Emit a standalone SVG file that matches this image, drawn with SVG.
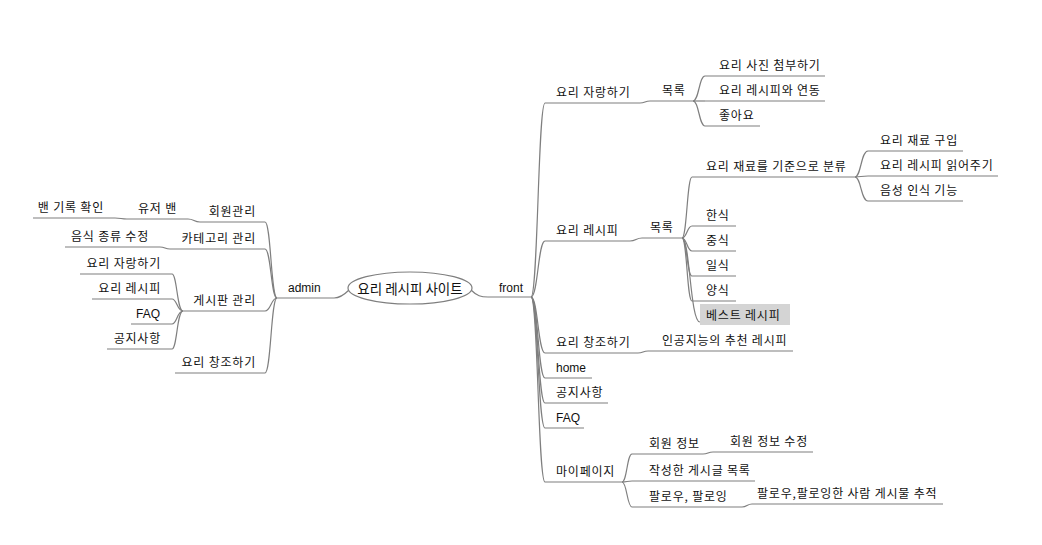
<svg xmlns="http://www.w3.org/2000/svg" width="1042" height="545" viewBox="0 0 1042 545">
<style>
.ln{fill:none;stroke:#7f7f7f;stroke-width:1.2}
.t{font-family:"Noto Sans CJK KR","Liberation Sans",sans-serif;font-size:12px;fill:#111;letter-spacing:0.8px}
.e{font-family:"Liberation Sans",Arial,sans-serif;font-size:12px;fill:#111}
.r{text-anchor:end}
</style>
<rect width="1042" height="545" fill="#fff"/>
<g id="connectors" class="ln">
<path d="M471,290 C477,296 481,297 488,297"/>
<path d="M531,297 C538,297 538,103 545,103"/>
<path d="M531,297 C538,297 538,241 545,241"/>
<path d="M531,297 C538,297 538,353 545,353"/>
<path d="M531,297 C538,297 538,378 545,378"/>
<path d="M531,297 C538,297 538,403 545,403"/>
<path d="M531,297 C538,297 538,428 545,428"/>
<path d="M531,297 C538,297 538,482 545,482"/>
<path d="M640,103 C645,103 645,101 650,101"/>
<path d="M693,101 C699,101 699,76 705,76"/>
<path d="M693,101 C699,101 699,101 705,101"/>
<path d="M693,101 C699,101 699,126 705,126"/>
<path d="M630,241 C636,241 636,238 642,238"/>
<path d="M682,238 C687,238 687,177 692,177"/>
<path d="M682,238 C687,238 687,226 692,226"/>
<path d="M682,238 C687,238 687,251 692,251"/>
<path d="M682,238 C687,238 687,276 692,276"/>
<path d="M682,238 C687,238 687,301 692,301"/>
<path d="M682,238 C690,238 690,322 700,322"/>
<path d="M855,177 C861,177 861,151 868,151"/>
<path d="M855,177 C861,177 861,176 868,176"/>
<path d="M855,177 C861,177 861,201 868,201"/>
<path d="M638,353 C643,353 643,351 648,351"/>
<path d="M622,482 C627,482 627,454 632,454"/>
<path d="M622,482 C627,482 627,481 632,481"/>
<path d="M622,482 C627,482 627,507 632,507"/>
<path d="M703,454 C708,454 708,452 713,452"/>
<path d="M742,507 C747,507 747,504 752,504"/>
<path d="M349,290 C343,296 339,298 334,298"/>
<path d="M277,298 C271,298 271,222 265,222"/>
<path d="M277,298 C271,298 271,249 265,249"/>
<path d="M277,298 C271,298 271,311 265,311"/>
<path d="M277,298 C271,298 271,373 265,373"/>
<path d="M200,222 C194,222 194,219 188,219"/>
<path d="M127,219 C121,219 121,218 115,218"/>
<path d="M170,249 C165,249 165,247 160,247"/>
<path d="M183,311 C177,311 177,274 172,274"/>
<path d="M183,311 C177,311 177,299 172,299"/>
<path d="M183,311 C177,311 177,324 172,324"/>
<path d="M183,311 C177,311 177,349 172,349"/>
</g>
<g id="root">
<ellipse cx="410" cy="288" rx="62" ry="16" fill="#fff" stroke="#7f7f7f" stroke-width="1.2"/>
<text x="410" y="294" class="t" style="font-size:13.5px;letter-spacing:0" text-anchor="middle">요리 레시피 사이트</text>
</g>
<g id="front"><path class="ln" d="M488,297 H531"/><text x="499" y="292" class="e">front</text></g>
<g id="f-jarang"><path class="ln" d="M545,103 H640"/><text x="556" y="97" class="t">요리 자랑하기</text></g>
<g id="f-jarang-list"><path class="ln" d="M650,101 H693"/><text x="662" y="95" class="t">목록</text></g>
<g id="f-photo"><path class="ln" d="M705,76 H825"/><text x="719" y="70" class="t">요리 사진 첨부하기</text></g>
<g id="f-link"><path class="ln" d="M705,101 H825"/><text x="719" y="95" class="t">요리 레시피와 연동</text></g>
<g id="f-like"><path class="ln" d="M705,126 H760"/><text x="719" y="120" class="t">좋아요</text></g>
<g id="f-recipe"><path class="ln" d="M545,241 H630"/><text x="556" y="235" class="t">요리 레시피</text></g>
<g id="f-recipe-list"><path class="ln" d="M642,238 H682"/><text x="650" y="232" class="t">목록</text></g>
<g id="f-ingr"><path class="ln" d="M692,177 H855"/><text x="706" y="171" class="t">요리 재료를 기준으로 분류</text></g>
<g id="f-buy"><path class="ln" d="M868,151 H963"/><text x="880" y="145" class="t">요리 재료 구입</text></g>
<g id="f-read"><path class="ln" d="M868,176 H998"/><text x="880" y="170" class="t">요리 레시피 읽어주기</text></g>
<g id="f-voice"><path class="ln" d="M868,201 H963"/><text x="880" y="195" class="t">음성 인식 기능</text></g>
<g id="f-kor"><path class="ln" d="M692,226 H736"/><text x="706" y="220" class="t">한식</text></g>
<g id="f-chn"><path class="ln" d="M692,251 H736"/><text x="706" y="245" class="t">중식</text></g>
<g id="f-jpn"><path class="ln" d="M692,276 H736"/><text x="706" y="270" class="t">일식</text></g>
<g id="f-west"><path class="ln" d="M692,301 H736"/><text x="706" y="295" class="t">양식</text></g>
<g id="f-best"><rect x="700" y="304" width="90" height="21" fill="#d4d4d4"/><text x="706" y="320" class="t">베스트 레시피</text></g>
<g id="f-create"><path class="ln" d="M545,353 H638"/><text x="556" y="347" class="t">요리 창조하기</text></g>
<g id="f-ai"><path class="ln" d="M648,351 H793"/><text x="662" y="345" class="t">인공지능의 추천 레시피</text></g>
<g id="f-home"><path class="ln" d="M545,378 H592"/><text x="556" y="372" class="e">home</text></g>
<g id="f-notice"><path class="ln" d="M545,403 H608"/><text x="556" y="397" class="t">공지사항</text></g>
<g id="f-faq"><path class="ln" d="M545,428 H584"/><text x="556" y="422" class="e">FAQ</text></g>
<g id="f-mypage"><path class="ln" d="M545,482 H622"/><text x="556" y="476" class="t">마이페이지</text></g>
<g id="f-member"><path class="ln" d="M632,454 H703"/><text x="649" y="448" class="t">회원 정보</text></g>
<g id="f-member-edit"><path class="ln" d="M713,452 H813"/><text x="730" y="446" class="t">회원 정보 수정</text></g>
<g id="f-posts"><path class="ln" d="M632,481 H755"/><text x="649" y="475" class="t">작성한 게시글 목록</text></g>
<g id="f-follow"><path class="ln" d="M632,507 H742"/><text x="649" y="501" class="t">팔로우, 팔로잉</text></g>
<g id="f-follow-track"><path class="ln" d="M752,504 H943"/><text x="757" y="498" class="t">팔로우,팔로잉한 사람 게시물 추적</text></g>
<g id="admin"><path class="ln" d="M277,298 H334"/><text x="288" y="292" class="e">admin</text></g>
<g id="a-member"><path class="ln" d="M200,222 H265"/><text x="256" y="216" class="t r">회원관리</text></g>
<g id="a-ban"><path class="ln" d="M127,219 H188"/><text x="177" y="213" class="t r">유저 밴</text></g>
<g id="a-ban-log"><path class="ln" d="M33,218 H115"/><text x="104" y="212" class="t r">밴 기록 확인</text></g>
<g id="a-category"><path class="ln" d="M170,249 H265"/><text x="256" y="243" class="t r">카테고리 관리</text></g>
<g id="a-food"><path class="ln" d="M65,247 H160"/><text x="149" y="241" class="t r">음식 종류 수정</text></g>
<g id="a-board"><path class="ln" d="M183,311 H265"/><text x="256" y="305" class="t r">게시판 관리</text></g>
<g id="a-b-jarang"><path class="ln" d="M80,274 H172"/><text x="161" y="268" class="t r">요리 자랑하기</text></g>
<g id="a-b-recipe"><path class="ln" d="M92,299 H172"/><text x="161" y="293" class="t r">요리 레시피</text></g>
<g id="a-b-faq"><path class="ln" d="M131,324 H172"/><text x="160" y="318" class="e r">FAQ</text></g>
<g id="a-b-notice"><path class="ln" d="M107,349 H172"/><text x="161" y="343" class="t r">공지사항</text></g>
<g id="a-create"><path class="ln" d="M175,373 H265"/><text x="256" y="367" class="t r">요리 창조하기</text></g>
</svg>
